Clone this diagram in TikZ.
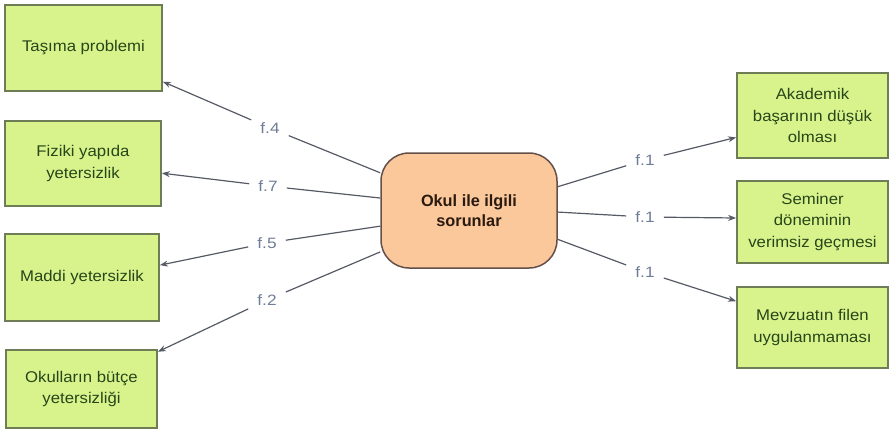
\documentclass[tikz,border=0pt]{standalone}
\usepackage{fontspec}
\setmainfont{Liberation Sans}
\newfontfamily\wideface[FakeStretch=1.08]{Liberation Sans}
\newfontfamily\lblface[FakeStretch=1.15]{Liberation Sans}
\usetikzlibrary{arrows.meta}
\definecolor{gfill}{HTML}{D9F38C}
\definecolor{gdraw}{HTML}{6E7D55}
\definecolor{gtext}{HTML}{27461A}
\definecolor{pfill}{HTML}{FAC89B}
\definecolor{pdraw}{HTML}{64504A}
\definecolor{ptext}{HTML}{2A1A10}
\definecolor{lbl}{HTML}{6E7D96}
\definecolor{conn}{HTML}{555A64}
\begin{document}
\begin{tikzpicture}[x=1pt,y=-1pt,
  gbox/.style={draw=gdraw,line width=1.8pt,fill=gfill,text=gtext,align=center,
    inner sep=0pt,font=\wideface\fontsize{15.5}{21.5}\selectfont},
  cbox/.style={draw=pdraw,line width=1.5pt,fill=pfill,text=ptext,align=center,
    rounded corners=28pt,inner sep=0pt,font=\fontsize{16.3}{19.5}\selectfont\bfseries},
  flab/.style={text=lbl,font=\lblface\fontsize{15}{15}\selectfont,inner xsep=9pt,inner ysep=4pt},
  link/.style={draw=conn,line width=1.2pt},
  arr/.style={link,-{Stealth[length=8pt,width=6pt]}}]
\useasboundingbox (0,0) rectangle (890,429);
\node[gbox,minimum width=157pt,minimum height=86pt] (b1) at (83.5,48) {Taşıma problemi};
\node[gbox,minimum width=156pt,minimum height=85pt] (b2) at (83,163.5) {Fiziki yapıda\\yetersizlik};
\node[gbox,minimum width=154pt,minimum height=87pt] (b3) at (82,277.5) {Maddi yetersizlik};
\node[gbox,minimum width=151pt,minimum height=78pt] (b4) at (81.5,389) {Okulların bütçe\\yetersizliği};
\node[cbox,minimum width=176pt,minimum height=115pt] (c) at (469,210.5) {Okul ile ilgili\\sorunlar};
\node[gbox,minimum width=151pt,minimum height=85pt] (r1) at (812.5,115.5) {Akademik\\başarının düşük\\olması};
\node[gbox,minimum width=151pt,minimum height=82pt] (r2) at (812.5,222) {Seminer\\döneminin\\verimsiz geçmesi};
\node[gbox,minimum width=151pt,minimum height=81pt] (r3) at (812.5,327.5) {Mevzuatın filen\\uygulanmaması};
\node[flab] (l1) at (270,128) {f.4};
\node[flab] (l2) at (268,186) {f.7};
\node[flab] (l3) at (267,243) {f.5};
\node[flab] (l4) at (267,300) {f.2};
\node[flab] (m1) at (645,160) {f.1};
\node[flab] (m2) at (645,217) {f.1};
\node[flab] (m3) at (645,272) {f.1};
\draw[link] (c.157) -- (l1);
\draw[arr] (l1) -- (b1.-23.4);
\draw[link] (c.172.6) -- (l2);
\draw[arr] (l2) -- (b2.-7.7);
\draw[link] (c.190) -- (l3);
\draw[arr] (l3) -- (b3.9.9);
\draw[link] (c.205.8) -- (l4);
\draw[arr] (l4) -- (b4.26);
\draw[link] (c.15.6) -- (m1);
\draw[arr] (m1) -- (r1.196.6);
\draw[link] (c.-1) -- (m2);
\draw[arr] (m2) -- (r2.177);
\draw[link] (c.-18.5) -- (m3);
\draw[arr] (m3) -- (r3.161.3);
\end{tikzpicture}
\end{document}
